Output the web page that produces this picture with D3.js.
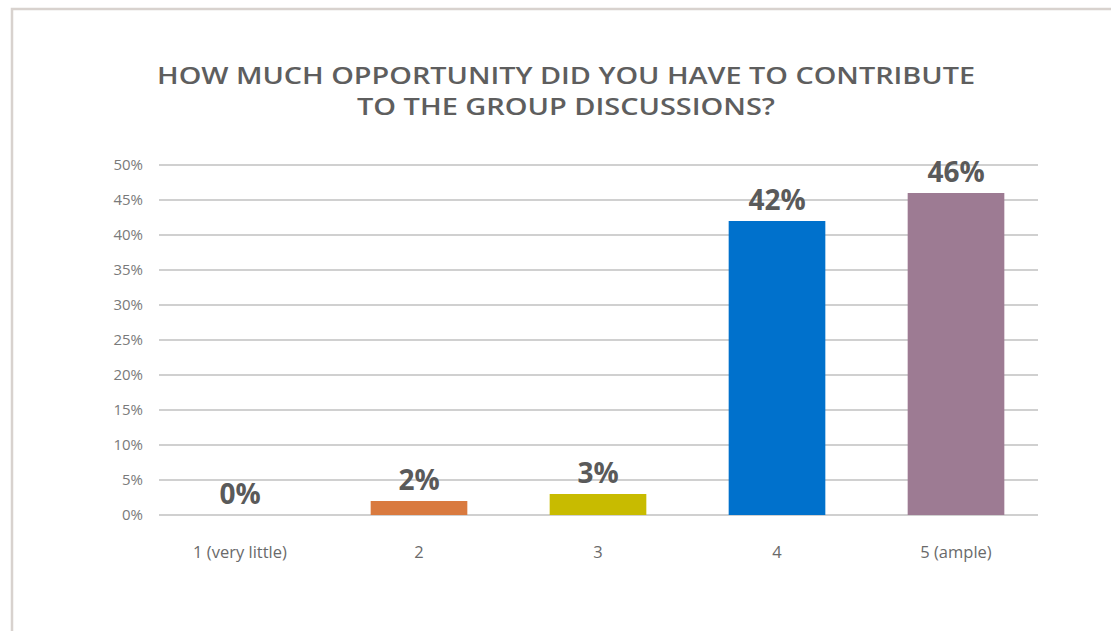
<!DOCTYPE html>
<html>
<head>
<meta charset="utf-8">
<script src="https://cdn.jsdelivr.net/npm/d3@7"></script>
<style>
  body { margin: 0; background: #fff; }
  svg text { font-family: "Open Sans", Lato, sans-serif; }
</style>
</head>
<body>
<div id="chart"></div>
<script>
var categories = ["1 (very little)", "2", "3", "4", "5 (ample)"];
var values = [0, 2, 3, 42, 46];
var colors = ["#8b8b8b", "#d97a3f", "#c8bb00", "#0071cc", "#9d7b93"];
var yTicks = [0, 5, 10, 15, 20, 25, 30, 35, 40, 45, 50];
var titleLines = ["HOW MUCH OPPORTUNITY DID YOU HAVE TO CONTRIBUTE", "TO THE GROUP DISCUSSIONS?"];
var titleWidths = [818, 418];

var width = 1111, height = 631;
var plotLeft = 159, plotRight = 1038;
var plotTop = 165, plotBottom = 515;

var svg = d3.select("#chart").append("svg")
  .attr("width", width)
  .attr("height", height);

// frame
svg.append("path")
  .attr("d", "M12," + height + "V9H" + width)
  .attr("fill", "none")
  .attr("stroke", "#d8d2ce")
  .attr("stroke-width", 2.5);

var x = d3.scaleBand()
  .domain(categories)
  .range([150.5, 1045.5])
  .paddingInner(0.46)
  .paddingOuter(0.23);

var y = d3.scaleLinear()
  .domain([0, 50])
  .range([plotBottom, plotTop]);

// title
svg.append("g").selectAll("text")
  .data(titleLines)
  .enter().append("text")
  .attr("x", 566)
  .attr("y", function(d, i) { return 84 + i * 31; })
  .attr("text-anchor", "middle")
  .attr("font-size", 22.5)
  .attr("font-weight", 600)
  .attr("fill", "#5e5e5e")
  .attr("textLength", function(d, i) { return titleWidths[i]; })
  .attr("lengthAdjust", "spacingAndGlyphs")
  .text(function(d) { return d; });

// gridlines
svg.append("g").selectAll("line")
  .data(yTicks)
  .enter().append("line")
  .attr("x1", plotLeft)
  .attr("x2", plotRight)
  .attr("y1", function(d) { return y(d); })
  .attr("y2", function(d) { return y(d); })
  .attr("stroke", "#d0d0d0")
  .attr("stroke-width", 2);

var yAxis = d3.axisLeft(y)
  .tickValues(yTicks)
  .tickSize(0)
  .tickPadding(16)
  .tickFormat(function(d) { return d + "%"; });

var gy = svg.append("g")
  .attr("transform", "translate(" + plotLeft + ",0)")
  .call(yAxis);
gy.select(".domain").remove();
gy.selectAll("text")
  .attr("font-size", 15)
  .attr("fill", "#7a7a7a")
  .attr("font-family", "'Open Sans', sans-serif");

var xAxis = d3.axisBottom(x).tickSize(0).tickPadding(31);
var gx = svg.append("g")
  .attr("transform", "translate(0," + y(0) + ")")
  .call(xAxis);
gx.select(".domain").remove();
gx.selectAll("text")
  .attr("font-size", 16.5)
  .attr("fill", "#6a6a6a")
  .attr("font-family", "'Open Sans', sans-serif");

// bars
svg.append("g").selectAll("rect")
  .data(values)
  .enter().append("rect")
  .attr("x", function(d, i) { return x(categories[i]); })
  .attr("width", x.bandwidth())
  .attr("y", function(d) { return y(d); })
  .attr("height", function(d) { return y(0) - y(d); })
  .attr("fill", function(d, i) { return colors[i]; });

// value labels
svg.append("g").selectAll("text")
  .data(values)
  .enter().append("text")
  .attr("x", function(d, i) { return x(categories[i]) + x.bandwidth() / 2; })
  .attr("y", function(d) { return y(d) - 11; })
  .attr("text-anchor", "middle")
  .attr("font-size", 28)
  .attr("font-weight", "bold")
  .attr("font-family", "'DejaVu Sans', sans-serif")
  .attr("fill", "#5a5a5a")
  .text(function(d) { return d + "%"; });
</script>
</body>
</html>
